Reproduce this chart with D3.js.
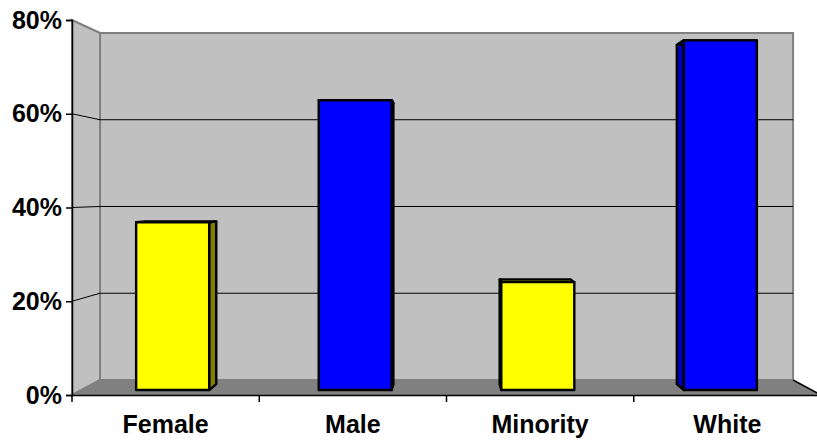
<!DOCTYPE html>
<html><head><meta charset="utf-8">
<script src="https://cdn.jsdelivr.net/npm/d3@7"></script>
<style>html,body{margin:0;padding:0;background:#fff;}svg{display:block;}</style>
</head><body>
<svg id="chart" width="817" height="440"></svg>
<script>
const categories = ["Female", "Male", "Minority", "White"];
const values = [0.367, 0.634, 0.236, 0.765];
const barColors = ["#ffff00", "#0000ff", "#ffff00", "#0000ff"];
const sideColors = ["#808000", "#0000b4", "#808000", "#0000b4"];
const yTicks = [0, 0.2, 0.4, 0.6, 0.8];

const svg = d3.select("#chart");
const font = "'Liberation Sans', Arial, sans-serif";

const x = d3.scaleBand().domain(categories).range([72, 821]).paddingInner(0.6).paddingOuter(0.3);
const y = d3.scaleLinear().domain([0, 0.8]).range([395, 20]);

// perspective: vanishing point and depth factors
const vp = [447, 194];
const sWall = 0.9253, sFront = 0.975, sBack = 0.946;
const P = (X, Y, s) => [vp[0] + s * (X - vp[0]), vp[1] + s * (Y - vp[1])];
const poly = pts => "M" + pts.map(p => p.join(",")).join("L") + "Z";
const line = pts => "M" + pts.map(p => p.join(",")).join("L");

const x0 = x.range()[0], x1 = x.range()[1];
const yTop = y(0.8), yBot = y(0);

// back wall
svg.append("path").attr("d", poly([P(x0, yTop, sWall), P(x1, yTop, sWall), P(x1, yBot, sWall), P(x0, yBot, sWall)]))
  .attr("fill", "#c0c0c0").attr("stroke", "#808080").attr("stroke-width", 2);
// side wall
svg.append("path").attr("d", poly([[x0, yTop], P(x0, yTop, sWall), P(x0, yBot, sWall), [x0, yBot]]))
  .attr("fill", "#c0c0c0").attr("stroke", "#808080").attr("stroke-width", 2);
// floor
svg.append("path").attr("d", poly([[x0, yBot], P(x0, yBot, sWall), P(x1, yBot, sWall), [x1, yBot]]))
  .attr("fill", "#808080").attr("stroke", "none");
svg.append("path").attr("d", line([P(x1, yBot, sWall), [x1, yBot]])).attr("stroke", "#000").attr("stroke-width", 1.5).attr("fill", "none");

// gridlines
yTicks.filter(v => v > 0 && v < 0.8).forEach(v => {
  svg.append("path").attr("d", line([[x0, y(v)], P(x0, y(v), sWall), P(x1, y(v), sWall)]))
    .attr("fill", "none").attr("stroke", "#000").attr("stroke-width", 1);
});

// bars
categories.forEach((c, i) => {
  const L = x(c), R = x(c) + x.bandwidth();
  const T = y(values[i]), B = y(0);
  const g = svg.append("g").attr("stroke", "#000").attr("stroke-width", 2.4).attr("stroke-linejoin", "round");
  const sideX = (L + R) / 2 < vp[0] ? R : L;
  g.append("path").attr("d", poly([P(sideX, T, sFront), P(sideX, T, sBack), P(sideX, B, sBack), P(sideX, B, sFront)]))
    .attr("fill", sideColors[i]);
  g.append("path").attr("d", poly([P(L, T, sFront), P(L, T, sBack), P(R, T, sBack), P(R, T, sFront)]))
    .attr("fill", barColors[i]);
  g.append("path").attr("d", poly([P(L, T, sFront), P(R, T, sFront), P(R, B, sFront), P(L, B, sFront)]))
    .attr("fill", barColors[i]);
});

// axes
const yAxis = d3.axisLeft(y).tickValues(yTicks).tickFormat(d3.format(".0%")).tickSize(6).tickPadding(4);
const gy = svg.append("g").attr("transform", `translate(${x0},0)`).call(yAxis);
gy.select(".domain").attr("stroke", "#000").attr("stroke-width", 1.5);
gy.selectAll("line").attr("stroke", "#000").attr("stroke-width", 1.5);
gy.selectAll("text").attr("font-family", font).attr("font-weight", "bold").attr("font-size", 25).attr("fill", "#000");

const xAxis = d3.axisBottom(x).tickSize(0).tickPadding(20);
const gx = svg.append("g").attr("transform", `translate(0,${yBot})`).call(xAxis);
gx.select(".domain").attr("stroke", "#000").attr("stroke-width", 1.5);
gx.selectAll("text").attr("font-family", font).attr("font-weight", "bold").attr("font-size", 25).attr("fill", "#000");
const bounds = d3.range(categories.length + 1).map(k => x0 + k * x.step());
gx.selectAll(".bt").data(bounds).enter().append("line")
  .attr("x1", d => d).attr("x2", d => d).attr("y1", 0).attr("y2", 7)
  .attr("stroke", "#000").attr("stroke-width", 1.5);
</script>
</body></html>
